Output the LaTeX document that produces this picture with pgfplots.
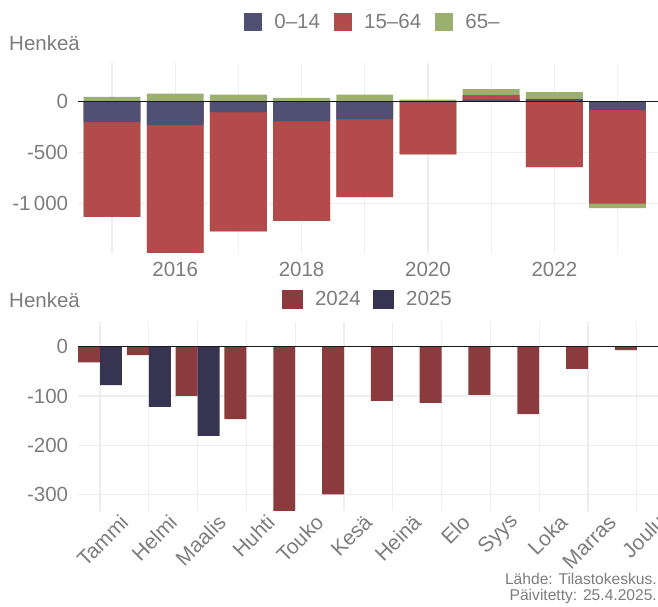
\documentclass[border=0pt]{standalone}
\usepackage{fontspec}
\setmainfont{Liberation Sans}
\usepackage{pgfplots}
\pgfplotsset{compat=1.18}
\usepackage{pgfplotstable}
\definecolor{cA}{RGB}{80,80,115}
\definecolor{cB}{RGB}{179,74,76}
\definecolor{cC}{RGB}{155,175,110}
\definecolor{cD}{RGB}{139,58,62}
\definecolor{cE}{RGB}{54,52,80}
\definecolor{gridc}{RGB}{238,238,238}
\definecolor{lab}{RGB}{125,125,125}
\newcommand\fs{\fontsize{20.5}{24}\selectfont}
\newcommand\fm{\fontsize{21}{24}\selectfont}
\newcommand\fc{\fontsize{15.6}{16.7}\selectfont}

% cumulative stacks, from zero outward (negative side, positive side)
\pgfplotstableread{
year negG negR negN posG posR posN
2015 -1131 -1131 -200 49 0 0
2016 -1486 -1486 -230 79 0 0
2017 -1273 -1273 -102 69 0 0
2018 -1171 -1171 -190 39 0 0
2019 -938 -938 -171 69 0 0
2020 -517 -517 -5 20 0 0
2021 0 0 0 125 66 20
2022 -643 -643 0 95 26 26
2023 -1046 -1000 -82 0 0 0
}\topdata

\pgfplotstableread{
m v
1 -32
2 -17
3 -100
4 -147
5 -336
6 -300
7 -110
8 -114
9 -98
10 -137
11 -45
12 -7
}\dataA

\pgfplotstableread{
m v
1 -78
2 -122
3 -181
}\dataB

\pgfplotsset{
  base/.style={
    scale only axis, width=580pt,
    axis line style={draw=none}, tick style={draw=none},
    xmajorgrids, ymajorgrids, xminorgrids,
    major grid style={draw=gridc, line width=1.1pt},
    minor grid style={draw=gridc, line width=1.1pt},
    tick label style={font=\fs, text=lab},
    /pgf/number format/assume math mode=true,
    yticklabel style={anchor=east, inner sep=0pt, xshift=-9.7pt},
    legend style={draw=none, fill=none, inner sep=0pt, legend columns=-1,
      font=\fs, text=lab, nodes={inner sep=0pt},
      /tikz/every odd column/.append style={column sep=12.5pt}},
  }
}

\begin{document}
\begin{tikzpicture}
\useasboundingbox (0,0) rectangle (658pt,606pt);
\clip (0,0) rectangle (658pt,606pt);

\begin{axis}[base, at={(78pt,353pt)}, anchor=south west, height=190pt,
  xmin=2014.462, xmax=2023.64, ymin=-1486, ymax=381,
  xtick={2016,2018,2020,2022}, xticklabels={2016,2018,2020,2022},
  minor xtick={2015,2017,2019,2021,2023},
  ytick={-1000,-500,0}, yticklabels={-1\,000,-500,0},
  xticklabel style={anchor=north, inner sep=0pt, yshift=-8.7pt},
  legend style={at={(0.2862,1.2158)}, anchor=west,
    /tikz/every even column/.append style={column sep=14pt}},
  legend image code/.code={\fill[#1, draw=none] (0pt,-9.4pt) rectangle (17.7pt,8.6pt);},
]
\addplot[ybar, bar width=0.9, bar shift=0pt, fill=cC, draw=none, forget plot] table[x=year, y=negG] {\topdata};
\addplot[ybar, bar width=0.9, bar shift=0pt, fill=cB, draw=none, forget plot] table[x=year, y=negR] {\topdata};
\addplot[ybar, bar width=0.9, bar shift=0pt, fill=cA, draw=none, forget plot] table[x=year, y=negN] {\topdata};
\addplot[ybar, bar width=0.9, bar shift=0pt, fill=cC, draw=none, forget plot] table[x=year, y=posG] {\topdata};
\addplot[ybar, bar width=0.9, bar shift=0pt, fill=cB, draw=none, forget plot] table[x=year, y=posR] {\topdata};
\addplot[ybar, bar width=0.9, bar shift=0pt, fill=cA, draw=none, forget plot] table[x=year, y=posN] {\topdata};
\addplot[black!90, line width=1.3pt, forget plot] coordinates {(2014.462,0) (2023.64,0)};
\addlegendimage{fill=cA}\addlegendentry{0--14}
\addlegendimage{fill=cB}\addlegendentry{15--64}
\addlegendimage{fill=cC}\addlegendentry{65--}
\end{axis}

\begin{axis}[base, at={(78pt,95.3pt)}, anchor=south west, height=189pt,
  xmin=0.549, xmax=12.434, ymin=-333, ymax=50.8,
  xtick={1,...,12},
  xticklabels={Tammi,Helmi,Maalis,Huhti,Touko,Kesä,Heinä,Elo,Syys,Loka,Marras,Joulu},
  xticklabel style={font=\fm, inner sep=0pt, xshift=24.5pt, yshift=-8pt, anchor=east, rotate=45},
  ytick={-300,-200,-100,0}, yticklabels={-300,-200,-100,0},
  legend style={at={(0.3517,1.1175)}, anchor=west,
    /tikz/every even column/.append style={column sep=12.6pt}},
  legend image code/.code={\fill[#1, draw=none] (0pt,-9.5pt) rectangle (20.4pt,9.5pt);},
]
\addplot[ybar, bar width=0.45, bar shift=-0.225, fill=cD, draw=none, forget plot] table[x=m, y=v] {\dataA};
\addplot[ybar, bar width=0.45, bar shift=0.225, fill=cE, draw=none, forget plot] table[x=m, y=v] {\dataB};
\addplot[black!90, line width=1.3pt, forget plot] coordinates {(0.549,0) (12.434,0)};
\addlegendimage{fill=cD}\addlegendentry{2024}
\addlegendimage{fill=cE}\addlegendentry{2025}
\end{axis}

\node[anchor=base west, inner sep=0pt, font=\fs, text=lab] at (9pt,555.3pt) {Henkeä};
\node[anchor=base west, inner sep=0pt, font=\fs, text=lab] at (9pt,298.7pt) {Henkeä};
\node[anchor=base east, inner sep=0pt, font=\fc, text=lab] at (657pt,22pt) {Lähde: Tilastokeskus.};
\node[anchor=base east, inner sep=0pt, font=\fc, text=lab] at (657pt,5.3pt) {Päivitetty: 25.4.2025.};
\end{tikzpicture}
\end{document}
